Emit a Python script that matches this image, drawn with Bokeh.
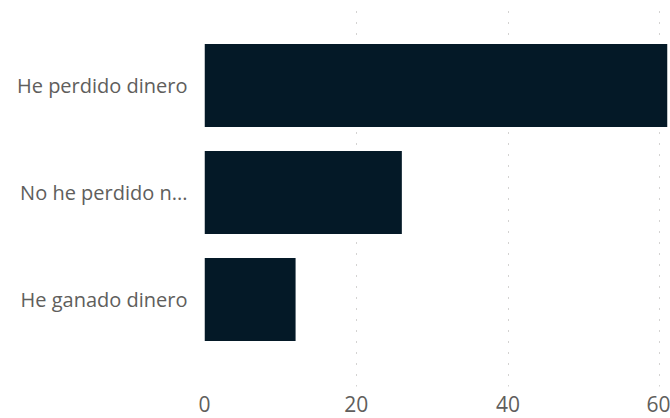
from bokeh.plotting import figure
from bokeh.models import Range1d, FixedTicker, ColumnDataSource
from bokeh.embed import file_html
from bokeh.resources import INLINE

categories = ["He perdido dinero", "No he perdido n...", "He ganado dinero"]
values = [61, 26, 12]
positions = [2, 1, 0]
x_ticks = [0, 20, 40, 60]

source = ColumnDataSource(dict(y=positions, v=values, cat=categories))

p = figure(
    output_backend="svg", toolbar_location=None,
    width=670, height=418,
    min_border_left=204, min_border_right=3, min_border_top=10, min_border_bottom=32,
    x_range=Range1d(0, 61), y_range=Range1d(-0.813, 2.701),
    background_fill_color="white", border_fill_color="white",
)
p.outline_line_color = None

p.hbar(y="y", right="v", left=0, height=0.776, source=source,
       fill_color="#041927", line_color=None)

p.xaxis.ticker = FixedTicker(ticks=x_ticks)
p.yaxis.ticker = FixedTicker(ticks=positions)
p.yaxis.major_label_overrides = {pos: c for pos, c in zip(positions, categories)}

for ax in (p.xaxis[0], p.yaxis[0]):
    ax.axis_line_color = None
    ax.major_tick_line_color = None
    ax.minor_tick_line_color = None
    ax.major_label_text_color = "#605E5C"
    ax.major_label_text_font = "Open Sans"

p.xaxis.major_label_text_font_size = "21px"
p.xaxis.major_label_standoff = 3
p.yaxis.major_label_text_font_size = "20px"
p.yaxis.major_label_standoff = 11

p.ygrid.grid_line_color = None
p.xgrid.grid_line_color = "#A8A6A4"
p.xgrid.grid_line_dash = "1 10"
p.xgrid.grid_line_width = 1

open("out.html", "w").write(file_html(p, INLINE))
